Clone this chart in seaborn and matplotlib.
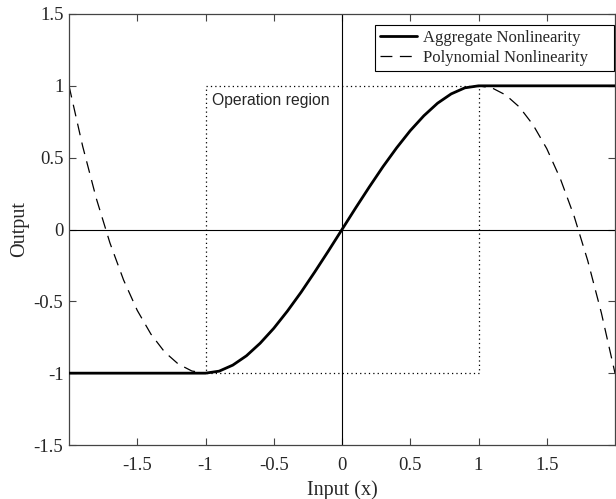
import numpy as np
import pandas as pd
import matplotlib
matplotlib.use("Agg")
import matplotlib.pyplot as plt
import seaborn as sns

# Sample points
x_vals = [-2.0, -1.9, -1.8, -1.7, -1.6, -1.5, -1.4, -1.3, -1.2, -1.1,
          -1.0, -0.9, -0.8, -0.7, -0.6, -0.5, -0.4, -0.3, -0.2, -0.1,
          0.0, 0.1, 0.2, 0.3, 0.4, 0.5, 0.6, 0.7, 0.8, 0.9,
          1.0, 1.1, 1.2, 1.3, 1.4, 1.5, 1.6, 1.7, 1.8, 1.9, 2.0]
aggregate = [-1.0, -1.0, -1.0, -1.0, -1.0, -1.0, -1.0, -1.0, -1.0, -1.0,
             -1.0, -0.986, -0.944, -0.879, -0.792, -0.688, -0.568, -0.437, -0.296, -0.150,
             0.0, 0.150, 0.296, 0.437, 0.568, 0.688, 0.792, 0.879, 0.944, 0.986,
             1.0, 1.0, 1.0, 1.0, 1.0, 1.0, 1.0, 1.0, 1.0, 1.0, 1.0]
polynomial = [1.0, 0.580, 0.216, -0.094, -0.352, -0.563, -0.728, -0.852, -0.936, -0.985,
              -1.0, -0.986, -0.944, -0.879, -0.792, -0.688, -0.568, -0.437, -0.296, -0.150,
              0.0, 0.150, 0.296, 0.437, 0.568, 0.688, 0.792, 0.879, 0.944, 0.986,
              1.0, 0.985, 0.936, 0.852, 0.728, 0.563, 0.352, 0.094, -0.216, -0.580, -1.0]
region_x = [-1, 1, 1, -1, -1]
region_y = [1, 1, -1, -1, 1]
x_ticks = [-1.5, -1, -0.5, 0, 0.5, 1, 1.5]
y_ticks = [-1.5, -1, -0.5, 0, 0.5, 1, 1.5]
x_tick_labels = ["-1.5", "-1", "-0.5", "0", "0.5", "1", "1.5"]
y_tick_labels = ["-1.5", "-1", "-0.5", "0", "0.5", "1", "1.5"]

sns.set_style("ticks")
plt.rcParams['font.family'] = ['Liberation Serif', 'DejaVu Serif']
plt.rcParams['xtick.direction'] = 'in'
plt.rcParams['ytick.direction'] = 'in'

df = pd.DataFrame({"x": x_vals, "agg": aggregate, "poly": polynomial})

fig = plt.figure(figsize=(6.16, 4.99), dpi=100)
ax = fig.add_axes([69/616, 1 - 445/499, (615 - 69)/616, (445 - 14)/499])

ax.axhline(0, color='black', lw=0.8, zorder=1)
ax.axvline(0, color='black', lw=0.8, zorder=1)
ax.plot(region_x, region_y, color='black', lw=0.9, ls=(0, (1, 2.5)), zorder=1)

sns.lineplot(data=df, x="x", y="poly", ax=ax, color='black', lw=0.9,
             dashes=False, linestyle=(0, (9.5, 6)), label="Polynomial Nonlinearity", zorder=2)
sns.lineplot(data=df, x="x", y="agg", ax=ax, color='black', lw=2.0,
             label="Aggregate Nonlinearity", zorder=3)

ax.text(-0.95, 0.9, "Operation region", family=['Liberation Sans', 'DejaVu Sans'],
        fontsize=11.3, va='center', ha='left')

ax.set_xlim(-2, 2)
ax.set_ylim(-1.5, 1.5)
ax.set_xticks(x_ticks)
ax.set_xticklabels(x_tick_labels, fontsize=13.5)
ax.set_yticks(y_ticks)
ax.set_yticklabels(y_tick_labels, fontsize=13.5)
ax.tick_params(top=True, right=True, length=5, width=0.8, color='#444444')
ax.tick_params(axis='y', pad=4)
ax.tick_params(axis='x', pad=9)
for s in ax.spines.values():
    s.set_color('#444444')
    s.set_linewidth(0.9)
ax.set_xlabel("Input (x)", fontsize=14.5, labelpad=4)
ax.set_ylabel("Output", fontsize=14.5, labelpad=3)

handles, labels = ax.get_legend_handles_labels()
order = [1, 0]
leg_x0 = (375 - 69) / 546
leg_w = (614 - 375) / 546
leg_top = (445 - 25) / 431
leg_h = 47 / 431
leg = ax.legend([handles[i] for i in order], [labels[i] for i in order],
                loc='upper left', bbox_to_anchor=(leg_x0, leg_top - leg_h, leg_w, leg_h),
                mode='expand', fontsize=12,
                frameon=True, fancybox=False, edgecolor='black', framealpha=1,
                borderpad=0.32, labelspacing=0.22, handlelength=2.2, handletextpad=0.35,
                borderaxespad=0.0)
leg.get_frame().set_linewidth(0.8)

fig.savefig("out.png", dpi=100)
